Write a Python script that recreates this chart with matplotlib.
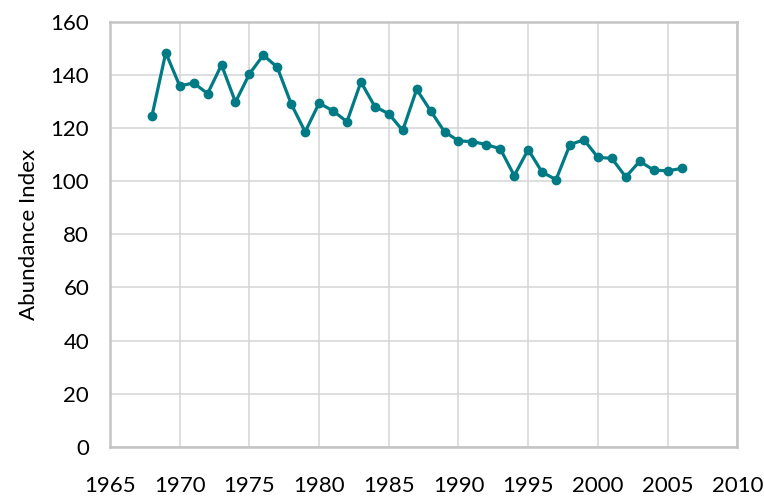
import numpy as np
import matplotlib.pyplot as plt

years = list(range(1968, 2007))
abundance = [124.4, 148.4, 135.9, 137.0, 133.0, 143.8, 129.8, 140.4, 147.5, 142.9,
             129.1, 118.6, 129.4, 126.5, 122.4, 137.4, 128.1, 125.4, 119.1, 134.6,
             126.5, 118.6, 115.2, 114.9, 113.8, 112.2, 102.1, 111.9, 103.4, 100.6,
             113.8, 115.6, 109.0, 108.6, 101.6, 107.5, 104.2, 103.9, 104.8]
xticks = list(range(1965, 2011, 5))
yticks = list(range(0, 161, 20))

plt.rcParams['font.family'] = ['Lato', 'DejaVu Sans']

fig = plt.figure(figsize=(7.64, 4.98), dpi=100)
ax = fig.add_axes([0.144, 0.103, 0.821, 0.853])

ax.plot(years, abundance, color='#007b86', linewidth=2.3, marker='o', markersize=6)

ax.set_xlim(1965, 2010)
ax.set_ylim(0, 160)
ax.set_xticks(xticks)
ax.set_yticks(yticks)
ax.grid(True, color='#d4d4d4', linewidth=1.1)
ax.set_axisbelow(True)
for s in ax.spines.values():
    s.set_color('#c4c4c4')
    s.set_linewidth(1.8)
ax.tick_params(axis='both', length=0, labelsize=16)
ax.tick_params(axis='x', pad=21)
ax.tick_params(axis='y', pad=15)
ax.set_ylabel('Abundance Index', fontsize=16, labelpad=8)

fig.savefig('out.png', dpi=100)
